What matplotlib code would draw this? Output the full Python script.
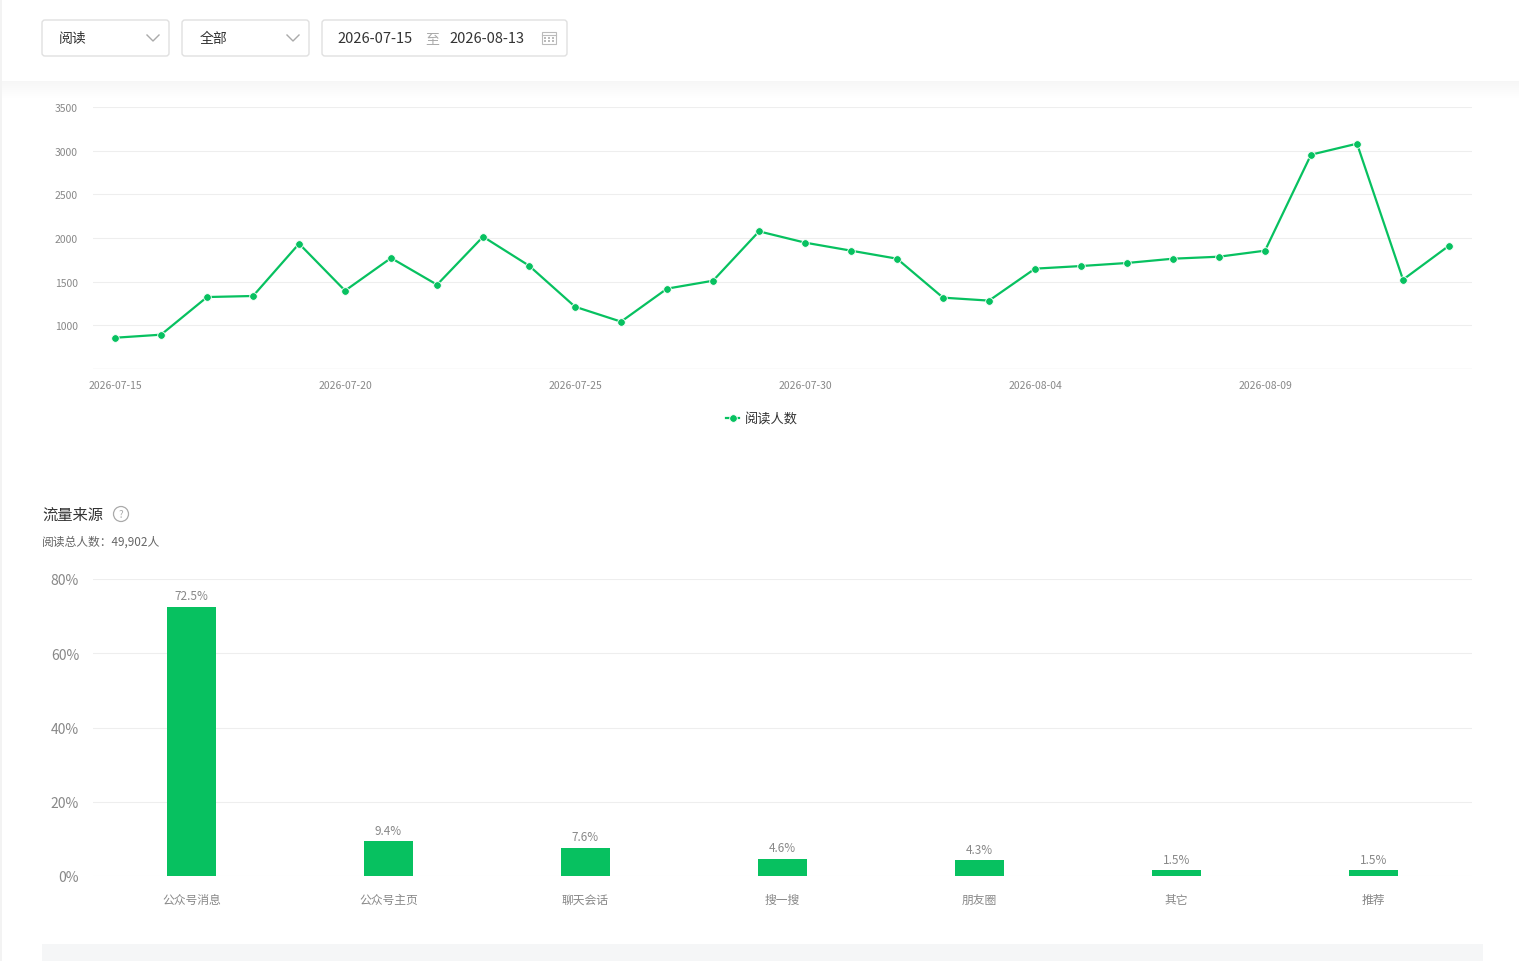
import numpy as np
import matplotlib
matplotlib.use('Agg')
import matplotlib.pyplot as plt
from matplotlib.patches import FancyBboxPatch, Rectangle, Circle

plt.rcParams['font.family'] = ['Noto Sans CJK SC', 'DejaVu Sans']

# ---- data ----
dates = ['2026-07-15', '2026-07-16', '2026-07-17', '2026-07-18', '2026-07-19',
         '2026-07-20', '2026-07-21', '2026-07-22', '2026-07-23', '2026-07-24',
         '2026-07-25', '2026-07-26', '2026-07-27', '2026-07-28', '2026-07-29',
         '2026-07-30', '2026-07-31', '2026-08-01', '2026-08-02', '2026-08-03',
         '2026-08-04', '2026-08-05', '2026-08-06', '2026-08-07', '2026-08-08',
         '2026-08-09', '2026-08-10', '2026-08-11', '2026-08-12', '2026-08-13']
readers = [858, 893, 1324, 1336, 1935, 1397, 1771, 1465, 2015, 1683,
           1213, 1042, 1420, 1511, 2076, 1947, 1855, 1763, 1317, 1283,
           1649, 1679, 1714, 1763, 1786, 1855, 2954, 3080, 1523, 1912]
line_yticks = [1000, 1500, 2000, 2500, 3000, 3500]

sources = ['公众号消息', '公众号主页', '聊天会话', '搜一搜', '朋友圈', '其它', '推荐']
share = [72.5, 9.4, 7.6, 4.6, 4.3, 1.5, 1.5]
bar_yticks = [0, 20, 40, 60, 80]

GREEN = '#07C160'
GRID = '#EEEEEE'
W, H = 1519, 962

fig = plt.figure(figsize=(W / 100, H / 100), dpi=100)
fig.patch.set_facecolor('white')


def frac(x0, y0, x1, y1):
    """pixel box (top-left origin) -> figure fraction rect"""
    return [x0 / W, 1 - y1 / H, (x1 - x0) / W, (y1 - y0) / H]


# ---- background / UI overlay ----
bg = fig.add_axes([0, 0, 1, 1], zorder=0)
bg.set_xlim(0, W)
bg.set_ylim(H, 0)
bg.axis('off')

# soft grey band under the toolbar
for i in range(18):
    g = 0.965 + 0.035 * i / 17
    bg.add_patch(Rectangle((0, 82 + i), W, 1, color=(g, g, g), lw=0))
bg.add_patch(Rectangle((0, 0), 2, H, color='#F3F3F3', lw=0))
# grey strip at the bottom
bg.add_patch(Rectangle((42, 945), 1441, 20, color='#F5F6F7', lw=0))

# dropdown boxes
for x0, x1 in [(42, 169), (182, 309), (322, 567)]:
    bg.add_patch(FancyBboxPatch((x0, 21), x1 - x0, 36,
                                boxstyle='round,pad=0,rounding_size=3',
                                fc='white', ec='#E0E0E0', lw=1))
bg.text(59, 39, '阅读', fontsize=10, color='#333333', va='center')
bg.text(200, 39, '全部', fontsize=10, color='#333333', va='center')
for cx in (153, 293):
    bg.plot([cx - 6, cx, cx + 6], [36, 42, 36], color='#AAAAAA', lw=1)
bg.text(337, 39, '2026-07-15', fontsize=10.5, color='#333333', va='center')
bg.text(425, 39, '至', fontsize=10, color='#AAAAAA', va='center')
bg.text(449, 39, '2026-08-13', fontsize=10.5, color='#333333', va='center')
# calendar icon
bg.add_patch(Rectangle((542, 33), 14, 12, fc='none', ec='#BBBBBB', lw=0.8))
bg.plot([542, 556], [36, 36], color='#BBBBBB', lw=0.8)
for dx in (545, 549, 553):
    for dy in (39, 42):
        bg.add_patch(Rectangle((dx - 0.7, dy - 0.7), 1.4, 1.4, color='#BBBBBB', lw=0))

# section header
bg.text(42, 515, '流量来源', fontsize=11, color='#333333', va='center')
bg.add_patch(Circle((121, 515), 7.5, fc='none', ec='#AAAAAA', lw=0.9))
bg.text(121, 515.5, '?', fontsize=7, color='#AAAAAA', ha='center', va='center')
bg.text(42, 542, '阅读总人数：49,902人', fontsize=8.5, color='#666666', va='center')

# ---- line chart ----
ax = fig.add_axes(frac(93, 108, 1472, 370), zorder=1)
ax.patch.set_alpha(0)
x = np.arange(len(dates))
ax.plot(x, readers, color=GREEN, lw=1.6, marker='o', ms=5.5,
        mfc=GREEN, mec='white', mew=0.6, label='阅读人数', zorder=3)
ax.set_xlim(-0.48, len(dates) - 0.5)
ax.set_ylim(500, 3500)
ax.set_yticks(line_yticks)
ax.set_yticklabels([str(v) for v in line_yticks])
ax.yaxis.grid(True, color=GRID, lw=0.8)
ax.axhline(500, color='#E8E8E8', lw=1)
ax.set_xticks(x[::5])
ax.set_xticklabels([dates[i] for i in x[::5]])
ax.tick_params(axis='both', length=0, colors='#888888', labelsize=7.5)
ax.tick_params(axis='y', pad=11)
ax.tick_params(axis='x', pad=8)
for s in ax.spines.values():
    s.set_visible(False)
ax.legend(loc='upper center', bbox_to_anchor=(0.485, -0.12), frameon=False,
          fontsize=9.5, handlelength=1.0, handletextpad=0.4, labelcolor='#333333')

# ---- bar chart ----
bx = fig.add_axes(frac(93, 580, 1472, 877), zorder=1)
bx.patch.set_alpha(0)
pos = np.arange(len(sources))
bars = bx.bar(pos, share, width=0.245, color=GREEN, zorder=3)
for b, v in zip(bars, share):
    bx.text(b.get_x() + b.get_width() / 2, v + 1.2, f'{v}%', ha='center',
            va='bottom', fontsize=8.5, color='#888888')
bx.set_xlim(-0.5, len(sources) - 0.5)
bx.set_ylim(0, 80)
bx.set_yticks(bar_yticks)
bx.set_yticklabels([f'{v}%' for v in bar_yticks])
bx.yaxis.grid(True, color=GRID, lw=0.8)
bx.set_xticks(pos)
bx.set_xticklabels(sources)
bx.tick_params(axis='both', length=0, colors='#888888')
bx.tick_params(axis='y', labelsize=10, pad=10)
bx.tick_params(axis='x', labelsize=8.5, pad=12)
for s in bx.spines.values():
    s.set_visible(False)

fig.savefig('out.png', dpi=100)
plt.close(fig)
